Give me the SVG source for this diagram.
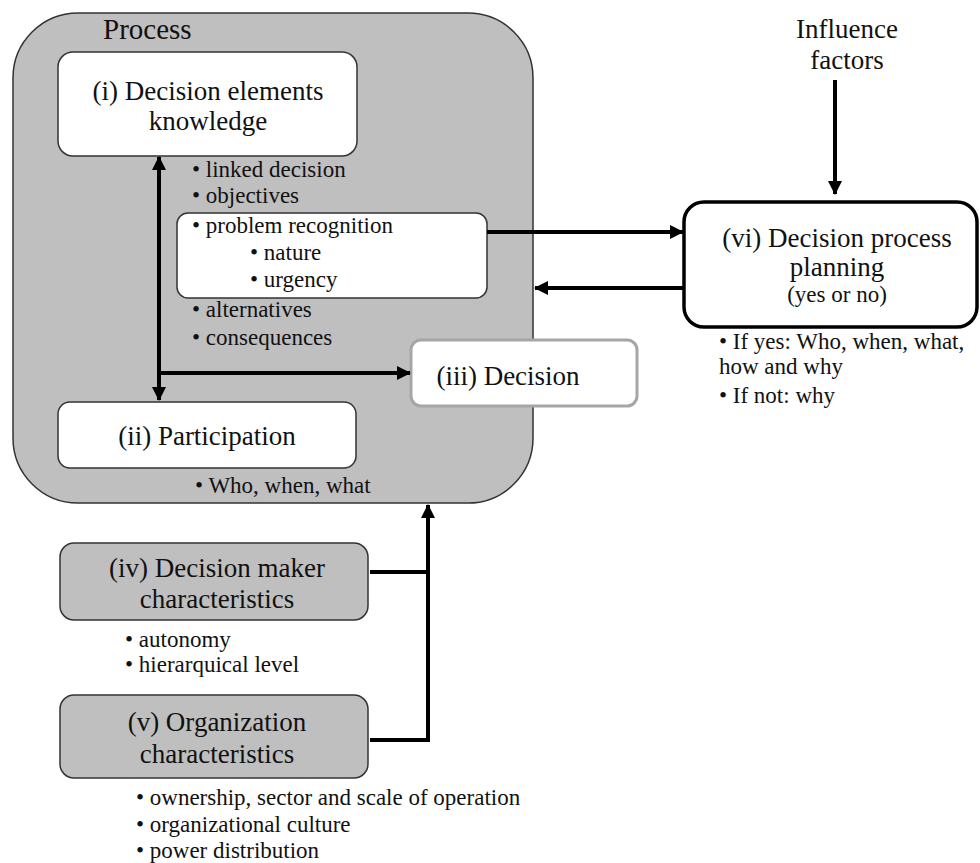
<svg xmlns="http://www.w3.org/2000/svg" width="980" height="863" viewBox="0 0 980 863">
<style>
text{font-family:"Liberation Serif","Times New Roman",serif;fill:#111}
.t{font-size:27px;text-anchor:middle}
.b{font-size:23px}
.w{fill:#fff;stroke:#333;stroke-width:1.5}
.g{fill:#bfbfbf;stroke:#333;stroke-width:1.5}
.c{fill:none;stroke:#000;stroke-width:4}
</style>
<defs>
<marker id="ah" markerUnits="userSpaceOnUse" markerWidth="14" markerHeight="14" refX="13" refY="7" orient="auto-start-reverse">
<path d="M0,0 L14,7 L0,14 z" fill="#000"/>
</marker>
</defs>
<rect width="980" height="863" fill="#fff"/>
<g id="process">
<rect class="g" x="13" y="13" width="520" height="490" rx="65"/>
<text x="103" y="39" style="font-size:29px">Process</text>
</g>
<g id="n1">
<rect class="w" x="58" y="52" width="299" height="104" rx="15"/>
<text class="t" x="208" y="100">(i) Decision elements</text>
<text class="t" x="208" y="130">knowledge</text>
</g>
<g id="n1-items">
<text class="b" x="192" y="177">•  linked decision</text>
<text class="b" x="192" y="203">• objectives</text>
</g>
<g id="problem">
<rect class="w" x="177" y="213" width="310" height="85" rx="11"/>
<text class="b" x="192" y="233">• problem   recognition</text>
<text class="b" x="250" y="260">• nature</text>
<text class="b" x="250" y="287">• urgency</text>
</g>
<g id="n1-items2">
<text class="b" x="192" y="317">• alternatives</text>
<text class="b" x="192" y="345">• consequences</text>
</g>
<g id="n2">
<rect class="w" x="58" y="402" width="298" height="66" rx="12"/>
<text class="t" x="207" y="445">(ii) Participation</text>
<text class="b" x="195" y="493">• Who, when, what</text>
</g>
<g id="n3">
<rect x="411" y="340" width="226" height="66" rx="10" fill="#fff" stroke="#a6a6a6" stroke-width="3"/>
<text class="t" x="508" y="385">(iii) Decision</text>
</g>
<g id="influence">
<text class="t" x="847" y="38">Influence</text>
<text class="t" x="847" y="69">factors</text>
</g>
<g id="n6">
<rect x="684" y="202" width="293" height="125" rx="20" fill="#fff" stroke="#000" stroke-width="3.5"/>
<text class="t" x="837" y="247">(vi) Decision process</text>
<text class="t" x="837" y="276">planning</text>
<text x="837" y="302" style="font-size:23px;text-anchor:middle">(yes or no)</text>
<text class="b" x="719" y="349">• If yes: Who, when, what,</text>
<text class="b" x="719" y="374">how and why</text>
<text class="b" x="719" y="403">• If not: why</text>
</g>
<g id="n4">
<rect class="g" x="60" y="543" width="308" height="77" rx="14"/>
<text class="t" x="217" y="577">(iv) Decision maker</text>
<text class="t" x="217" y="608">characteristics</text>
<text class="b" x="125" y="647">• autonomy</text>
<text class="b" x="125" y="672">• hierarquical level</text>
</g>
<g id="n5">
<rect class="g" x="60" y="695" width="308" height="83" rx="14"/>
<text class="t" x="217" y="731">(v) Organization</text>
<text class="t" x="217" y="763">characteristics</text>
<text class="b" x="136" y="805">• ownership, sector and scale of operation</text>
<text class="b" x="136" y="832">• organizational culture</text>
<text class="b" x="136" y="858">• power distribution</text>
</g>
<g id="connectors">
<line class="c" x1="159" y1="157" x2="159" y2="400" marker-start="url(#ah)" marker-end="url(#ah)"/>
<line class="c" x1="159" y1="373" x2="410" y2="373" marker-end="url(#ah)"/>
<line class="c" x1="487" y1="232" x2="683" y2="232" marker-end="url(#ah)"/>
<line class="c" x1="684" y1="288" x2="535" y2="288" marker-end="url(#ah)"/>
<line class="c" x1="835" y1="80" x2="835" y2="194" marker-end="url(#ah)"/>
<path class="c" d="M370,572 H428"/>
<path class="c" d="M370,740 H428 V505" marker-end="url(#ah)"/>
</g>
</svg>
